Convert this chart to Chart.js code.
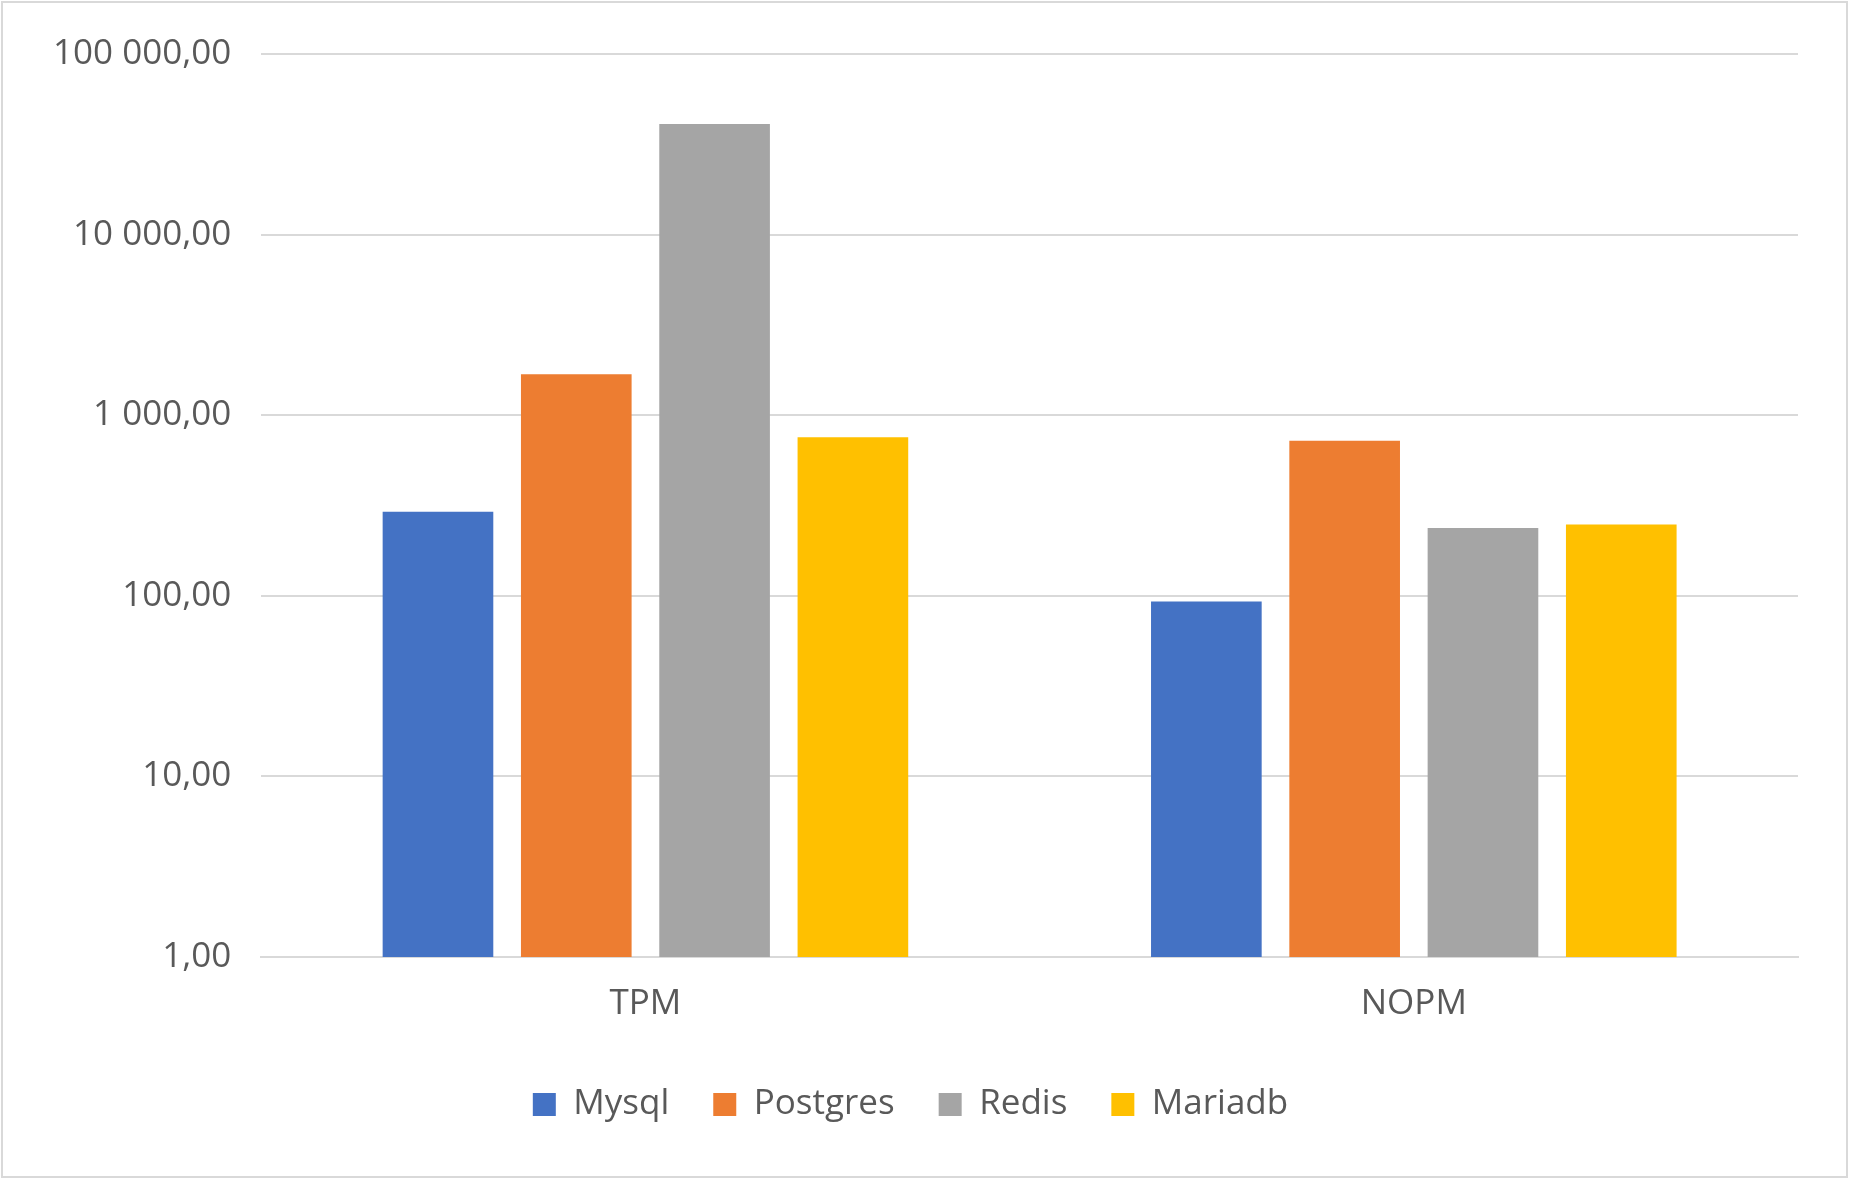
<!DOCTYPE html>
<html>
<head>
<meta charset="utf-8">
<script src="https://cdn.jsdelivr.net/npm/chart.js@4/dist/chart.umd.min.js"></script>
<style>
  html, body { margin: 0; padding: 0; background: #fff; }
  #wrap { position: absolute; left: 1px; top: 1px; width: 1847px; height: 1177px; border: 2px solid #d9d9d9; box-sizing: border-box; }
</style>
</head>
<body>
<div id="wrap"><canvas id="chartContainer"></canvas></div>
<script>
// data
const categories = ['TPM', 'NOPM'];
const seriesNames = ['Mysql', 'Postgres', 'Redis', 'Mariadb'];
const mysql = [292, 93];
const postgres = [1683, 721];
const redis = [41000, 237];
const mariadb = [754, 248];
const yTicks = [1, 10, 100, 1000, 10000, 100000];

const colors = ['#4472c4', '#ed7d31', '#a5a5a5', '#ffc000'];
const values = [mysql, postgres, redis, mariadb];

function fmt(v) {
    let s = Math.round(v).toString().replace(/\B(?=(\d{3})+(?!\d))/g, ' ');
    return s + ',00';
}

var ctx = document.getElementById('chartContainer').getContext('2d');
window.myBarChart = new Chart(ctx, {
    type: 'bar',
    data: {
        labels: categories,
        datasets: seriesNames.map((n, i) => ({
            label: n,
            data: values[i],
            backgroundColor: colors[i],
            barPercentage: 0.8,
            categoryPercentage: 0.72
        }))
    },
    options: {
        responsive: true,
        maintainAspectRatio: false,
        animation: false,
        layout: { padding: { top: 34, right: 48, left: 20, bottom: 44 } },
        scales: {
            x: {
                grid: { display: false },
                border: { color: '#d9d9d9', width: 2 },
                ticks: { color: '#595959', font: { family: 'Open Sans', size: 35 }, padding: 18 }
            },
            y: {
                type: 'logarithmic',
                min: 1,
                max: 100000,
                afterBuildTicks: function(axis) {
                    axis.ticks = yTicks.map(v => ({ value: v }));
                },
                grid: { color: '#d9d9d9', lineWidth: 2, drawTicks: false },
                border: { display: false },
                ticks: {
                    color: '#595959',
                    font: { family: 'Open Sans', size: 35 },
                    padding: 30,
                    callback: function(value) { return fmt(value); }
                }
            }
        },
        plugins: {
            legend: {
                position: 'bottom',
                labels: {
                    color: '#595959',
                    font: { family: 'Open Sans', size: 35 },
                    boxWidth: 23,
                    boxHeight: 23,
                    padding: 44
                }
            },
            tooltip: { enabled: false }
        }
    }
});
</script>
</body>
</html>
